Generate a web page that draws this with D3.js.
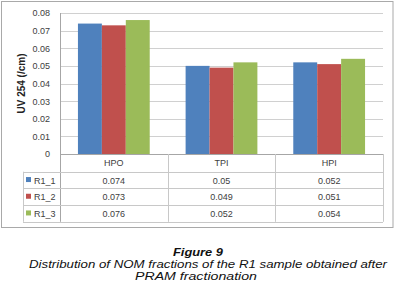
<!DOCTYPE html>
<html>
<head>
<meta charset="utf-8">
<script src="https://cdn.jsdelivr.net/npm/d3@7"></script>
<style>
    body { margin: 0; background: #fff; }
    text { font-family: "Liberation Sans", Arial, sans-serif; }
</style>
</head>
<body>
<div id="chart"></div>
<script>
const categories = ['HPO', 'TPI', 'HPI'];
const seriesNames = ['R1_1', 'R1_2', 'R1_3'];
const r1_1 = [0.074, 0.05, 0.052];
const r1_2 = [0.073, 0.049, 0.051];
const r1_3 = [0.076, 0.052, 0.054];
const yTicks = [0, 0.01, 0.02, 0.03, 0.04, 0.05, 0.06, 0.07, 0.08];
const captionLines = ['Figure 9', 'Distribution of NOM fractions of the R1 sample obtained after', 'PRAM fractionation'];

const color = ['#4f81bd', '#c0504d', '#9bbb59'];
const values = [r1_1, r1_2, r1_3];

let margin = {top: 13, right: 12, bottom: 136, left: 60};
let width = 395, height = 290;

let svg = d3.select('#chart')
    .append('svg')
    .attr('width', width)
    .attr('height', height);

// outer frame
svg.append('rect')
    .attr('x', 1.5).attr('y', 1.5)
    .attr('width', 391.5).attr('height', 226)
    .attr('fill', 'none')
    .attr('stroke', '#a9a9a9')
    .attr('stroke-width', 1);

let plotRight = width - margin.right;
let plotBottom = height - margin.bottom;

let xScale = d3.scaleBand()
    .domain(categories)
    .range([margin.left, plotRight]);

// gap width 150%
let bw = xScale.bandwidth() / 4.5;
let xInner = d3.scaleBand()
    .domain(seriesNames)
    .range([bw * 0.75, bw * 3.75]);

let yScale = d3.scaleLinear()
    .domain([0, 0.08])
    .range([plotBottom, margin.top]);

// gridlines
svg.append('g')
    .selectAll('line')
    .data(yTicks)
    .enter()
    .append('line')
    .attr('x1', margin.left)
    .attr('x2', plotRight)
    .attr('y1', d => Math.round(yScale(d)) + 0.5)
    .attr('y2', d => Math.round(yScale(d)) + 0.5)
    .attr('stroke', d => d === 0 ? '#a6a6a6' : '#d0d0d0')
    .attr('stroke-width', 1);

// y axis
let yAxis = svg.append('g')
    .attr('transform', `translate(${margin.left},0)`)
    .call(d3.axisLeft(yScale).tickValues(yTicks).tickFormat(d => d === 0 ? '0' : d3.format('.2f')(d)).tickSize(0).tickPadding(10));
yAxis.select('.domain').remove();
yAxis.selectAll('text')
    .attr('fill', '#404040')
    .style('font-size', '9px');

// bars
let groups = svg.append('g')
    .selectAll('.series')
    .data(values)
    .enter()
    .append('g')
    .attr('class', 'series')
    .attr('fill', (d, i) => color[i]);

groups.selectAll('rect')
    .data((d, i) => d.map((v, j) => ({v: v, cat: categories[j], s: seriesNames[i]})))
    .enter()
    .append('rect')
    .attr('x', d => xScale(d.cat) + xInner(d.s))
    .attr('width', xInner.bandwidth())
    .attr('y', d => yScale(d.v))
    .attr('height', d => plotBottom - yScale(d.v));

// data table
let rowH = 16.7;
let headerBottom = plotBottom + 17.7;
let tableLeft = 23;
let tableBottom = headerBottom + rowH * seriesNames.length;
let tbl = svg.append('g');

// vertical lines
let vx = categories.map(c => xScale(c)).concat([plotRight]);
tbl.selectAll('.vline')
    .data(vx)
    .enter()
    .append('line')
    .attr('x1', d => Math.round(d) + 0.5)
    .attr('x2', d => Math.round(d) + 0.5)
    .attr('y1', (d, i) => i === 0 ? margin.top : plotBottom)
    .attr('y2', tableBottom)
    .attr('stroke', (d, i) => i === 0 ? '#a6a6a6' : '#c8c8c8');

tbl.append('line')
    .attr('x1', tableLeft + 0.5).attr('x2', tableLeft + 0.5)
    .attr('y1', headerBottom).attr('y2', tableBottom)
    .attr('stroke', '#c8c8c8');

// horizontal lines
tbl.selectAll('.hline')
    .data(d3.range(seriesNames.length + 1))
    .enter()
    .append('line')
    .attr('x1', tableLeft)
    .attr('x2', plotRight)
    .attr('y1', d => Math.round(headerBottom + d * rowH) + 0.5)
    .attr('y2', d => Math.round(headerBottom + d * rowH) + 0.5)
    .attr('stroke', '#c8c8c8');

// header labels
tbl.selectAll('.head')
    .data(categories)
    .enter()
    .append('text')
    .attr('x', d => xScale(d) + xScale.bandwidth() / 2)
    .attr('y', plotBottom + 12)
    .attr('text-anchor', 'middle')
    .attr('fill', '#404040')
    .style('font-size', '9px')
    .text(d => d);

// rows
seriesNames.forEach((s, i) => {
    let cy = headerBottom + rowH * i + rowH / 2;
    tbl.append('rect')
        .attr('x', 26).attr('y', cy - 3)
        .attr('width', 5).attr('height', 5)
        .attr('fill', color[i]);
    tbl.append('text')
        .attr('x', 34).attr('y', cy + 3.5)
        .attr('fill', '#404040')
        .style('font-size', '9px')
        .text(s);
    tbl.selectAll('.val' + i)
        .data(values[i])
        .enter()
        .append('text')
        .attr('x', (d, j) => xScale(categories[j]) + xScale.bandwidth() / 2)
        .attr('y', cy + 3.5)
        .attr('text-anchor', 'middle')
        .attr('fill', '#404040')
        .style('font-size', '9px')
        .text(d => d);
});

// y label
svg.append('text')
    .attr('transform', 'rotate(-90)')
    .attr('x', -(margin.top + plotBottom) / 2)
    .attr('y', 25)
    .attr('text-anchor', 'middle')
    .attr('fill', '#222')
    .style('font-size', '10px')
    .style('font-weight', 'bold')
    .text('UV 254 (/cm)');

// caption (the figure is a little stretched sideways, so pin the widths)
let cap = svg.append('g');
cap.append('text')
    .attr('x', 173).attr('y', 256)
    .attr('textLength', 50)
    .attr('lengthAdjust', 'spacingAndGlyphs')
    .style('font-size', '11px')
    .style('font-weight', 'bold')
    .style('font-style', 'italic')
    .attr('fill', '#111')
    .text(captionLines[0]);
cap.append('text')
    .attr('x', 29).attr('y', 268)
    .attr('textLength', 358)
    .attr('lengthAdjust', 'spacingAndGlyphs')
    .style('font-size', '10px')
    .style('font-style', 'italic')
    .attr('fill', '#111')
    .text(captionLines[1]);
cap.append('text')
    .attr('x', 135).attr('y', 280)
    .attr('textLength', 122)
    .attr('lengthAdjust', 'spacingAndGlyphs')
    .style('font-size', '10px')
    .style('font-style', 'italic')
    .attr('fill', '#111')
    .text(captionLines[2]);
</script>
</body>
</html>
